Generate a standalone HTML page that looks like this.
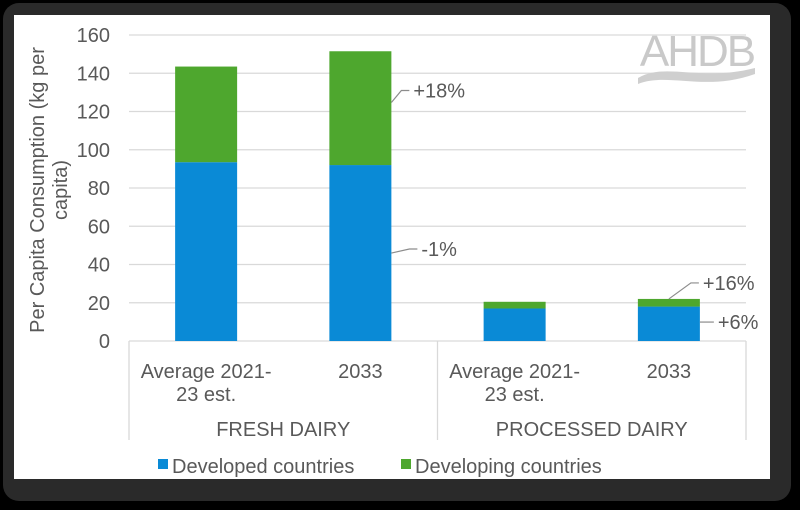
<!DOCTYPE html>
<html><head><meta charset="utf-8"><style>
html,body{margin:0;padding:0;background:#000;width:800px;height:510px;overflow:hidden}
#frame{position:absolute;left:3px;top:3px;width:788px;height:498px;background:#2a2a2a;border-radius:16px}
#card{position:absolute;left:14px;top:15px;width:756px;height:464px;background:#fff}
svg{position:absolute;left:0;top:0}
text{font-family:"Liberation Sans",sans-serif;fill:#595959}
</style></head><body>
<div id="frame"></div>
<div id="card"></div>
<svg id="chart" width="800" height="510"></svg>
<script>
const categories = ["Average 2021-|23 est.", "2033", "Average 2021-|23 est.", "2033"];
const groups = ["FRESH DAIRY", "PROCESSED DAIRY"];
const developed = [93.5, 92, 17, 18];
const developing = [50, 59.5, 3.5, 4];
const yTicks = [0, 20, 40, 60, 80, 100, 120, 140, 160];
const seriesNames = ["Developed countries", "Developing countries"];
const colors = ["#0a8ad6", "#4ea72e"];

const NS = "http://www.w3.org/2000/svg";
const svg = document.getElementById("chart");
const x0 = 129, x1 = 746, yBase = 341, yTop = 35, yMax = 160;
const slot = (x1 - x0) / categories.length, bw = 62;
function y(v){ return yBase - v / yMax * (yBase - yTop); }
function cx(i){ return x0 + slot * (i + 0.5); }
function mk(tag, attrs, txt){
  const e = document.createElementNS(NS, tag);
  for (const k in attrs) e.setAttribute(k, attrs[k]);
  if (txt !== undefined) e.textContent = txt;
  svg.appendChild(e);
  return e;
}
yTicks.forEach(t => {
  const g = mk("line", {x1: x0, x2: x1, y1: y(t), y2: y(t), stroke: "#d9d9d9", "stroke-width": 1.3});
  
  
  const l = mk("text", {x: 110, y: y(t) + 7, "text-anchor": "end", "font-size": 20}, t);
  
  
});
[0, 2, 4].forEach(k => {
  const s = mk("line", {x1: x0 + slot * k, x2: x0 + slot * k, y1: yBase, y2: 440, stroke: "#d9d9d9", "stroke-width": 1.3});
  
  
});
categories.forEach((c, i) => {
  const b1 = mk("rect", {x: cx(i) - bw / 2, y: y(developed[i]), width: bw, height: yBase - y(developed[i]), fill: colors[0]});
  
  
  const tot = developed[i] + developing[i];
  const b2 = mk("rect", {x: cx(i) - bw / 2, y: y(tot), width: bw, height: y(developed[i]) - y(tot), fill: colors[1]});
  
  
  c.split("|").forEach((ln, j) => {
    const t = mk("text", {x: cx(i), y: 378 + j * 23, "text-anchor": "middle", "font-size": 20}, ln);
    
    
  });
});
groups.forEach((g, k) => {
  const t = mk("text", {x: x0 + slot * (2 * k + 1), y: 436, "text-anchor": "middle", "font-size": 20}, g);
  
  
});
const ann = [
  {bar: 1, v: developed[1] + developing[1] * 0.55, lbl: "+18%", dx: 18, dy: -12},
  {bar: 1, v: developed[1] * 0.5, lbl: "-1%", dx: 26, dy: -4},
  {bar: 3, v: developed[3] + developing[3], lbl: "+16%", dx: 30, dy: -16, mid: true},
  {bar: 3, v: developed[3] * 0.55, lbl: "+6%", dx: 14, dy: 0}
];
ann.forEach(a => {
  const sx = a.mid ? cx(a.bar) : cx(a.bar) + bw / 2;
  const sy = y(a.v);
  const ex = sx + a.dx, ey = sy + a.dy;
  const l = mk("path", {d: `M${sx},${sy} L${ex - 8},${ey} L${ex},${ey}`, stroke: "#8c8c8c", "stroke-width": 1.2, fill: "none"});
  
  
  const t = mk("text", {x: ex + 4, y: ey + 7, "font-size": 20}, a.lbl);
  
  
});
const yt = mk("text", {transform: "translate(44,190) rotate(-90)", "text-anchor": "middle", "font-size": 20});


const ts1 = document.createElementNS(NS, "tspan"); ts1.setAttribute("x", 0); ts1.setAttribute("y", 0); ts1.textContent = "Per Capita Consumption (kg per"; yt.appendChild(ts1);
const ts2 = document.createElementNS(NS, "tspan"); ts2.setAttribute("x", 0); ts2.setAttribute("y", 23); ts2.textContent = "capita)"; yt.appendChild(ts2);
const lx = [158, 401];
seriesNames.forEach((n, i) => {
  const r = mk("rect", {x: lx[i], y: 459, width: 10, height: 10, fill: colors[i]});
  
  
  const t = mk("text", {x: lx[i] + 14, y: 473, "font-size": 20}, n);
  
  
});
const logo = mk("text", {x: 697, y: 66, "text-anchor": "middle", "font-size": 44, style: "fill:#c9c9c9", "letter-spacing": "-2"}, "AHDB");


const wave = mk("path", {d: "M638,78 C665,62 700,82 755,68 L755,74 C705,92 668,72 638,84 Z", fill: "#cfcfcf"});


</script>
</body></html>
